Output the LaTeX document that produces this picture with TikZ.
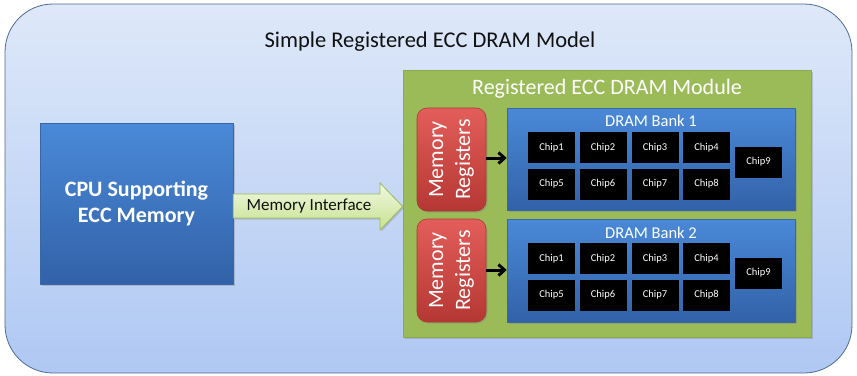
\documentclass[tikz,border=0pt]{standalone}
\usepackage{fontspec}
\setmainfont{Carlito}
\usetikzlibrary{shadows,arrows.meta}
\definecolor{outerA}{HTML}{DEE8F9}
\definecolor{outerB}{HTML}{AFC8F3}
\definecolor{outerLine}{HTML}{4E6A94}
\definecolor{blueA}{HTML}{4A89D8}
\definecolor{blueB}{HTML}{3262A8}
\definecolor{blueLine}{HTML}{3A66A6}
\definecolor{greenM}{HTML}{9BBB59}
\definecolor{greenLine}{HTML}{8CAB4C}
\definecolor{redA}{HTML}{E35E5A}
\definecolor{redB}{HTML}{B53733}
\definecolor{redLine}{HTML}{A83A36}
\definecolor{ifA}{HTML}{F1F8E2}
\definecolor{ifB}{HTML}{C6E28F}
\definecolor{titleC}{HTML}{111111}
\tikzset{
  shad/.style={drop shadow={opacity=0.35,shadow xshift=1.5pt,shadow yshift=-1.5pt}},
  outerbox/.style={draw=outerLine,line width=0.8pt,rounded corners=48pt,top color=outerA,bottom color=outerB},
  modbox/.style={draw=greenLine,line width=0.6pt,fill=greenM,shad},
  cpubox/.style={draw=blueLine,line width=0.6pt,top color=blueA,bottom color=blueB,shad,
     text=white,font=\fontsize{22}{26}\selectfont\bfseries,align=center},
  bankbox/.style={draw=blueLine,line width=0.6pt,top color=blueA,bottom color=blueB,shad},
  regbox/.style={draw=redLine,line width=0.6pt,rounded corners=10pt,top color=redA,bottom color=redB,shad},
  regtext/.style={rotate=90,text=white,align=center,font=\fontsize{22}{27}\selectfont},
  chipbox/.style={fill=black,minimum width=47pt,minimum height=31pt,inner sep=0pt,
     text=white,font=\fontsize{10.5}{12}\selectfont},
  banktitle/.style={text=white,font=\fontsize{16.5}{18}\selectfont},
  conn/.style={-{Straight Barb[length=6pt,width=11pt]},line width=3pt,black},
  ifarrow/.style={draw=greenM,line width=0.8pt,top color=ifA,bottom color=ifB,shad}
}
\begin{document}
\begin{tikzpicture}[x=1pt,y=-1pt]
\useasboundingbox (0,0) rectangle (857,375);
% outer
\node[outerbox,minimum width=847pt,minimum height=369pt,inner sep=0pt] (outer) at (428.5,188.5) {};
\node[text=titleC,font=\fontsize{22.5}{26}\selectfont] (title) at (430,42) {Simple Registered ECC DRAM Model};
% module
\node[modbox,minimum width=408pt,minimum height=267pt,inner sep=0pt] (mod) at (607,203.5) {};
\node[text=white,font=\fontsize{22}{26}\selectfont] (modtitle) at (607,89) {Registered ECC DRAM Module};
% CPU
\node[cpubox,minimum width=193pt,minimum height=161pt,inner sep=0pt] (cpu) at (136.5,203.5) {CPU Supporting\\ECC Memory};
% interface arrow
\path[ifarrow] (cpu.east |- 0,194) -- (380,194) -- (380,183) -- (mod.west |- 0,206.5) -- (380,230) -- (380,218) -- (cpu.east |- 0,218) -- cycle;
\node[text=titleC,font=\fontsize{17}{19}\selectfont] (mi) at (309,206) {Memory Interface};
% registers
\node[regbox,minimum width=69pt,minimum height=103pt,inner sep=0pt] (reg1) at (451.5,159.5) {};
\node[regtext] at (reg1.center) {Memory\\Registers};
\node[regbox,minimum width=69pt,minimum height=103pt,inner sep=0pt] (reg2) at (451.5,270.5) {};
\node[regtext] at (reg2.center) {Memory\\Registers};
% banks
\node[bankbox,minimum width=288pt,minimum height=102pt,inner sep=0pt] (bank1) at (651,159) {};
\node[banktitle] (b1t) at (651,121) {DRAM Bank 1};
\node[bankbox,minimum width=288pt,minimum height=103pt,inner sep=0pt] (bank2) at (651,270.5) {};
\node[banktitle] (b2t) at (651,233) {DRAM Bank 2};
% chips bank 1
\node[chipbox] (a1) at (551.5,147.5) {Chip1};
\node[chipbox] (a2) at (603,147.5) {Chip2};
\node[chipbox] (a3) at (655,147.5) {Chip3};
\node[chipbox] (a4) at (706.5,147.5) {Chip4};
\node[chipbox] (a5) at (551.5,184) {Chip5};
\node[chipbox] (a6) at (603,184) {Chip6};
\node[chipbox] (a7) at (655,184) {Chip7};
\node[chipbox] (a8) at (706.5,184) {Chip8};
\node[chipbox] (a9) at (758.5,162) {Chip9};
% chips bank 2
\node[chipbox] (c1) at (551.5,258.5) {Chip1};
\node[chipbox] (c2) at (603,258.5) {Chip2};
\node[chipbox] (c3) at (655,258.5) {Chip3};
\node[chipbox] (c4) at (706.5,258.5) {Chip4};
\node[chipbox] (c5) at (551.5,295) {Chip5};
\node[chipbox] (c6) at (603,295) {Chip6};
\node[chipbox] (c7) at (655,295) {Chip7};
\node[chipbox] (c8) at (706.5,295) {Chip8};
\node[chipbox] (c9) at (758.5,273) {Chip9};
% connectors
\draw[conn] (reg1.east |- 0,158) -- (bank1.west |- 0,158);
\draw[conn] (reg2.east |- 0,270) -- (bank2.west |- 0,270);
\end{tikzpicture}
\end{document}
